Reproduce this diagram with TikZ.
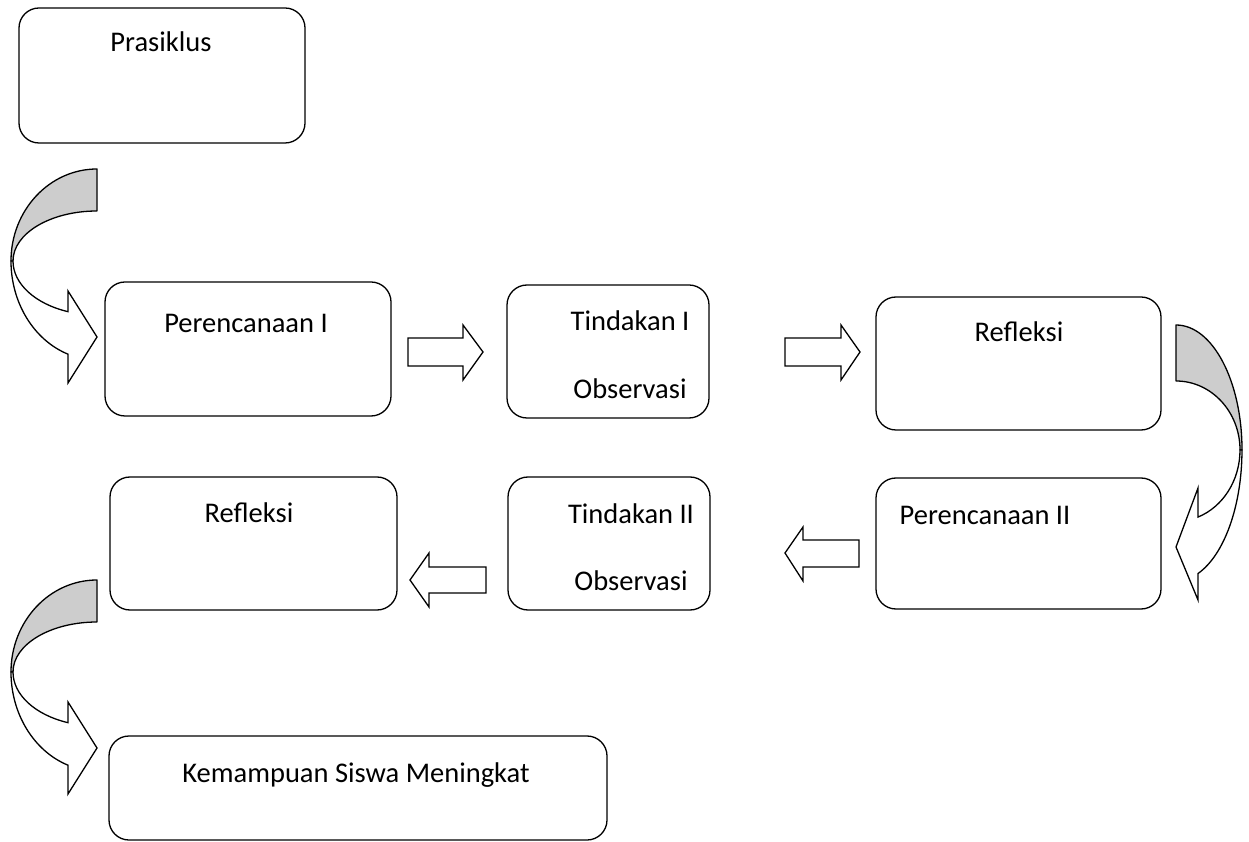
\documentclass[tikz,border=0pt]{standalone}
\usepackage{fontspec}
\setmainfont{Carlito}
\definecolor{shadegray}{RGB}{205,205,205}
\begin{document}
\begin{tikzpicture}[x=1pt,y=1pt,
  rbox/.style={draw,line width=1.3pt,rounded corners=20pt,inner sep=0pt,fill=white},
  txt/.style={anchor=base,font=\fontsize{28.5}{34}\selectfont,inner sep=0pt},
  blockarrow/.style={draw,line width=1.3pt,fill=white,line join=miter},
  shadeface/.style={draw,line width=1.3pt,fill=shadegray,line join=round},
  frontface/.style={draw,line width=1.3pt,fill=white,line join=miter},
  curvL/.pic={
    \path[shadeface] (0,92) arc[start angle=90,end angle=180,x radius=86pt,y radius=92pt]
       -- (-84,0) arc[start angle=180,end angle=90,x radius=84pt,y radius=50pt] -- cycle;
    \path[frontface] (-84,0) arc[start angle=180,end angle=249.8,x radius=84pt,y radius=54pt]
       -- (-29,-30) -- (0,-76) -- (-29,-122) -- (-29,-93.2)
       arc[start angle=250.3,end angle=180,x radius=86pt,y radius=99pt] -- cycle;
  },
  curvR/.pic={
    \path[shadeface] (0,125) arc[start angle=90,end angle=0,x radius=66pt,y radius=125pt]
       -- (64,0) arc[start angle=0,end angle=90,x radius=64pt,y radius=69pt] -- cycle;
    \path[frontface] (64,0) arc[start angle=0,end angle=-69.9,x radius=64pt,y radius=71.4pt]
       -- (22,-38) -- (0,-97) -- (22,-150) -- (22,-123.5)
       arc[start angle=-70.5,end angle=0,x radius=66pt,y radius=131pt] -- cycle;
  }]
\useasboundingbox (0,0) rectangle (1249,841);
\clip (0,0) rectangle (1249,841);

% boxes
\node[rbox,minimum width=286pt,minimum height=135pt] (pra) at (162,765.5) {};
\node[rbox,minimum width=286pt,minimum height=134pt] (pr1) at (248,492) {};
\node[rbox,minimum width=202pt,minimum height=133pt] (td1) at (608,489.5) {};
\node[rbox,minimum width=285pt,minimum height=133pt] (rf1) at (1018.5,477.5) {};
\node[rbox,minimum width=285pt,minimum height=131pt] (pr2) at (1018.5,297.5) {};
\node[rbox,minimum width=202pt,minimum height=133pt] (td2) at (609,297.5) {};
\node[rbox,minimum width=287pt,minimum height=133pt] (rf2) at (253.5,297.5) {};
\node[rbox,minimum width=498pt,minimum height=104pt] (kem) at (358,53) {};

% texts
\node[txt] (tpra) at (161,789) {Prasiklus};
\node[txt] (tpr1) at (246,508) {Perencanaan I};
\node[txt] (ttd1) at (630,510) {Tindakan I};
\node[txt] (tob1) at (630,442) {Observasi};
\node[txt] (trf1) at (1019,499) {Refleksi};
\node[txt] (tpr2) at (985,316) {Perencanaan II};
\node[txt] (ttd2) at (631,317) {Tindakan II};
\node[txt] (tob2) at (631,251) {Observasi};
\node[txt] (trf2) at (249,318) {Refleksi};
\node[txt] (tkem) at (356,59) {Kemampuan Siswa Meningkat};

% straight block arrows
\path[blockarrow] (408,503) -- (463,503) -- (463,516) -- (483,489) -- (463,461) -- (463,475) -- (408,475) -- cycle;
\path[blockarrow] (785,503) -- (841,503) -- (841,516) -- (860,489) -- (841,461) -- (841,475) -- (785,475) -- cycle;
\path[blockarrow] (859,301) -- (803,301) -- (803,314) -- (785,288) -- (803,260) -- (803,274) -- (859,274) -- cycle;
\path[blockarrow] (486,274) -- (429,274) -- (429,288) -- (410,261) -- (429,234) -- (429,248) -- (486,248) -- cycle;

% curved arrows
\pic at (97,580) {curvL};
\pic at (1176,391) {curvR};
\pic at (97,169) {curvL};
\end{tikzpicture}
\end{document}
